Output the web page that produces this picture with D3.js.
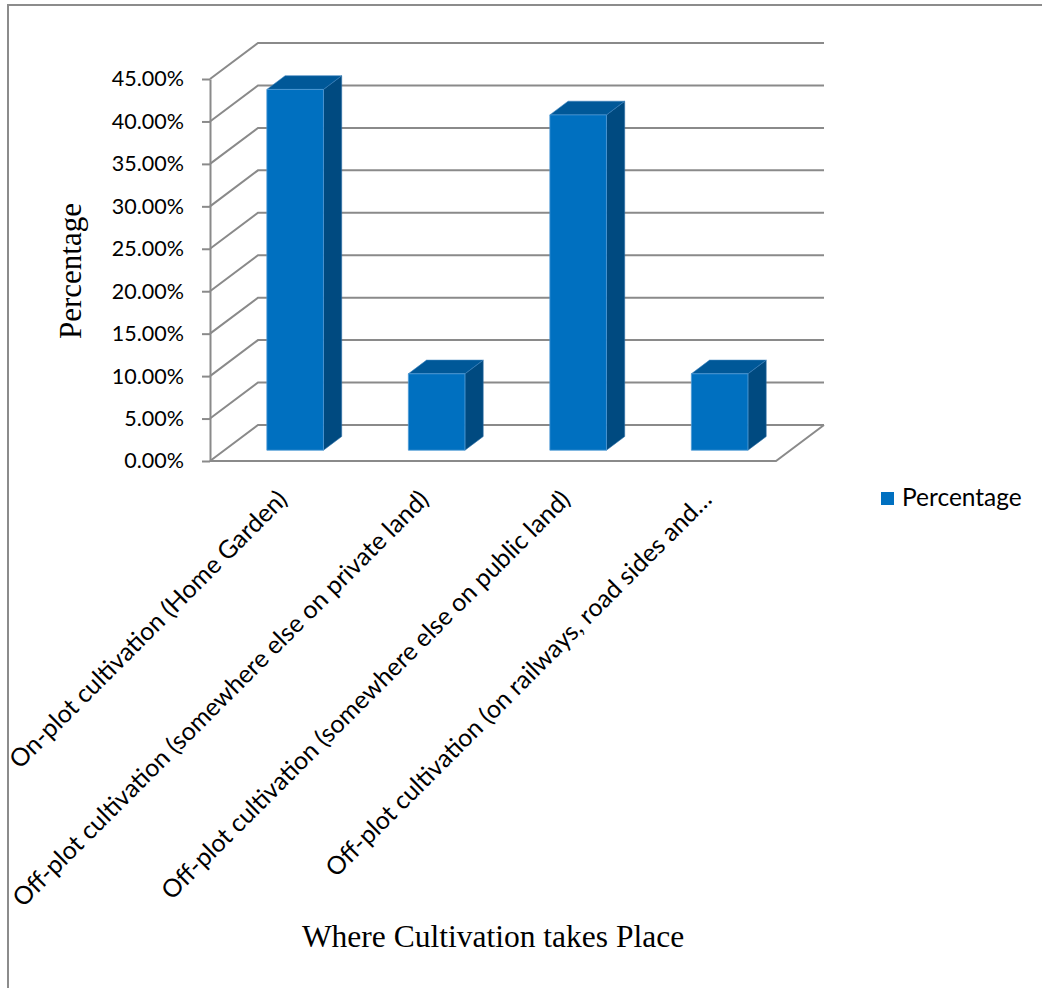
<!DOCTYPE html>
<html>
<head>
<meta charset="utf-8">
<script src="https://cdn.jsdelivr.net/npm/d3@7"></script>
<style>
  html, body { margin: 0; padding: 0; background: #fff; }
  svg { display: block; }
</style>
</head>
<body>
<svg id="chart" width="1042" height="988"></svg>
<script>
// Where cultivation takes place (share of respondents, %)
const categories = [
  "On-plot cultivation (Home Garden)",
  "Off-plot cultivation (somewhere else on private land)",
  "Off-plot cultivation (somewhere else on public land)",
  "Off-plot cultivation (on railways, road sides and\u2026"
];
const percentage = [42.5, 9.0, 39.5, 9.0];
const yTicks = [0, 5, 10, 15, 20, 25, 30, 35, 40, 45];
const seriesName = "Percentage";
const yTitle = "Percentage";
const xTitle = "Where Cultivation takes Place";

const svg = d3.select("#chart");
const SANS = "Lato, 'Open Sans', sans-serif";
const SERIF = "'Liberation Serif', 'DejaVu Serif', serif";
const GRID = "#8a8a8a";

// front plane of the 3-D plot box
const x0 = 210, x1 = 776, yBottom = 461, yTop = 79;
// depth vector of the box (front -> back)
const DX = 48, DY = -36;
// bar depth slot (fractions of the box depth)
const F0 = 0.30, F1 = 0.68;

const y = d3.scaleLinear().domain([0, 45]).range([yBottom, yTop]);
const x = d3.scaleBand().domain(categories).range([x0, x1])
  .paddingInner(0.6).paddingOuter(0.3);

const proj = (px, v, f) => [px + f * DX, y(v) + f * DY];

// outer frame
svg.append("path")
  .attr("d", "M8,1000 L8,5 L1050,5")
  .attr("fill", "none").attr("stroke", "#8c8c8c").attr("stroke-width", 2);

const grid = svg.append("g").attr("fill", "none").attr("stroke", GRID).attr("stroke-width", 2);

// back wall gridlines and left wall diagonals
yTicks.forEach(v => {
  const a = proj(x0, v, 0), b = proj(x0, v, 1), c = proj(x1, v, 1);
  grid.append("path").attr("d", `M${a}L${b}L${c}`);
});
// floor outline
{
  const a = proj(x0, 0, 0), b = proj(x1, 0, 0), c = proj(x1, 0, 1);
  grid.append("path").attr("d", `M${a}L${b}L${c}`);
}

// value axis on the front left edge
const yAxis = d3.axisLeft(y)
  .tickValues(yTicks)
  .tickFormat(d => d.toFixed(2) + "%")
  .tickSize(8).tickSizeOuter(0).tickPadding(18);
const ag = svg.append("g").attr("transform", `translate(${x0},0)`).call(yAxis);
ag.select(".domain").attr("stroke", GRID).attr("stroke-width", 2);
ag.selectAll(".tick line").attr("stroke", GRID).attr("stroke-width", 2);
ag.selectAll(".tick text")
  .attr("font-family", SANS).attr("font-size", 21.5).attr("fill", "#000");

// 3-D bars
const FRONT = "#0070c0", SIDE = "#004a80", TOP = "#005898";
const bars = svg.append("g");
categories.forEach((cat, i) => {
  const v = percentage[i];
  const xl = x(cat), xr = x(cat) + x.bandwidth();
  const poly = pts => "M" + pts.map(p => p.join(",")).join("L") + "Z";
  const g = bars.append("g");
  g.append("path")
    .attr("d", poly([proj(xr, 0, F0), proj(xr, v, F0), proj(xr, v, F1), proj(xr, 0, F1)]))
    .attr("fill", SIDE).attr("stroke", "#2d6fa6").attr("stroke-width", 0.6);
  g.append("path")
    .attr("d", poly([proj(xl, v, F0), proj(xr, v, F0), proj(xr, v, F1), proj(xl, v, F1)]))
    .attr("fill", TOP).attr("stroke", "#3a82bd").attr("stroke-width", 0.6);
  g.append("path")
    .attr("d", poly([proj(xl, 0, F0), proj(xr, 0, F0), proj(xr, v, F0), proj(xl, v, F0)]))
    .attr("fill", FRONT).attr("stroke", "#4f9bd6").attr("stroke-width", 0.8);
});

// category labels, rotated under the floor
const cl = svg.append("g")
  .attr("font-family", SANS).attr("font-size", 25).attr("fill", "#000");
categories.forEach(cat => {
  const cx = x(cat) + x.bandwidth() / 2;
  cl.append("text")
    .attr("transform", `translate(${cx + 8},${yBottom + 40}) rotate(-45)`)
    .attr("text-anchor", "end")
    .text(cat);
});

// axis titles
svg.append("text")
  .attr("transform", "translate(81,271) rotate(-90)")
  .attr("text-anchor", "middle")
  .attr("font-family", SERIF).attr("font-size", 31).attr("fill", "#000")
  .text(yTitle);
svg.append("text")
  .attr("x", 493).attr("y", 947)
  .attr("text-anchor", "middle")
  .attr("font-family", SERIF).attr("font-size", 31.5).attr("fill", "#000")
  .text(xTitle);

// legend
const lg = svg.append("g").attr("transform", "translate(881,492)");
lg.append("rect").attr("width", 13).attr("height", 13).attr("fill", FRONT);
lg.append("text").attr("x", 21).attr("y", 14)
  .attr("font-family", SANS).attr("font-size", 24.5).attr("fill", "#000")
  .text(seriesName);
</script>
</body>
</html>
